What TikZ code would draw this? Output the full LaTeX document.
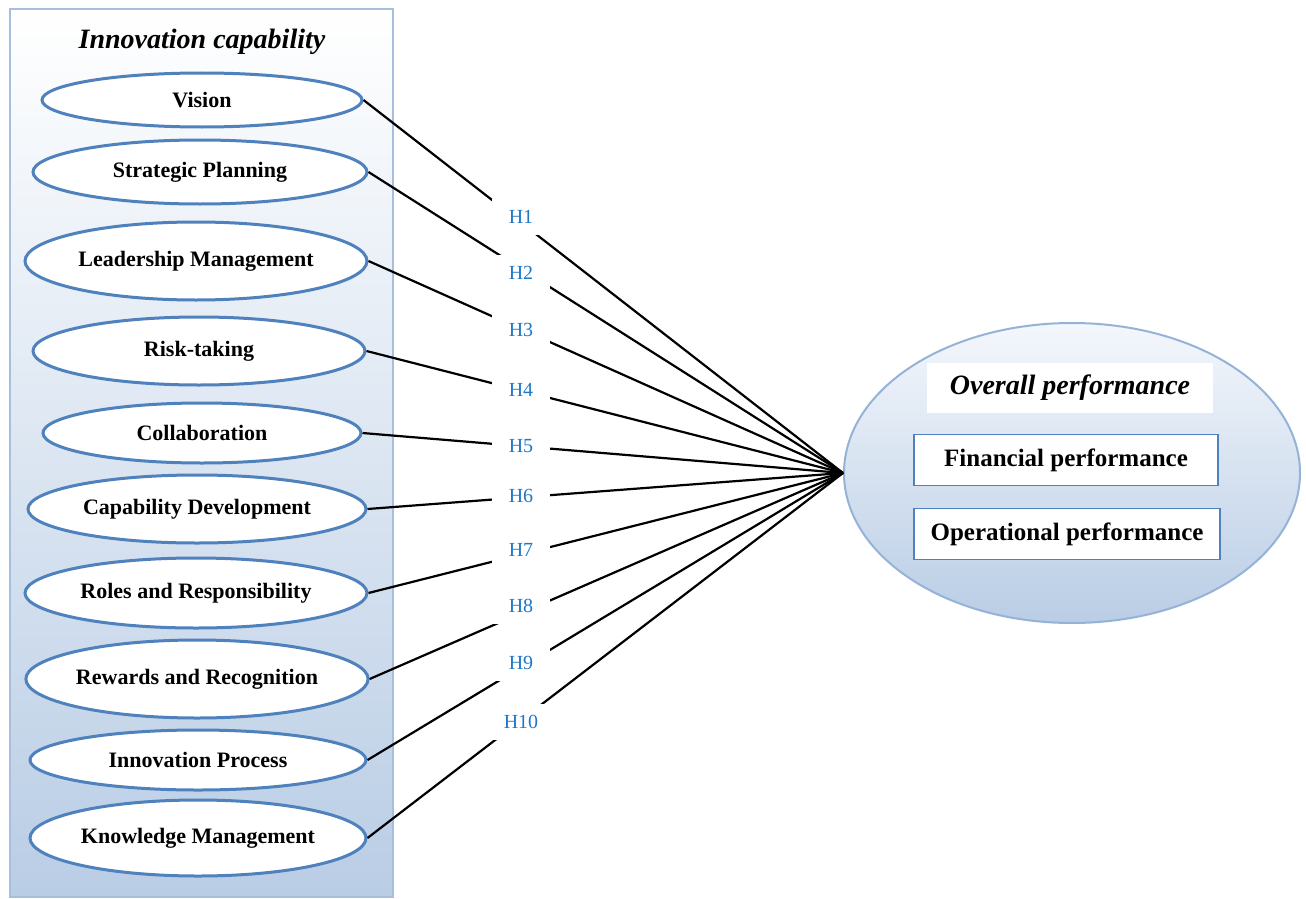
\documentclass[tikz,border=0pt]{standalone}
\usepackage{fontspec}
\setmainfont{Liberation Serif}
\usetikzlibrary{shapes.geometric}
\definecolor{ellborder}{HTML}{4F81BD}
\definecolor{panelborder}{HTML}{A7BFDD}
\definecolor{panelbot}{HTML}{B9CDE5}
\definecolor{bigborder}{HTML}{95B3D7}
\definecolor{bigtop}{HTML}{F4F7FC}
\definecolor{hblue}{HTML}{1F78C8}
\begin{document}
\begin{tikzpicture}[x=1pt,y=-1pt,
  panel/.style={draw=panelborder,line width=2pt,top color=white,bottom color=panelbot},
  ell/.style={ellipse,draw=ellborder,line width=3pt,fill=white,inner sep=0pt,
    font=\fontsize{22pt}{26pt}\selectfont\bfseries},
  bigell/.style={ellipse,draw=bigborder,line width=2pt,top color=bigtop,bottom color=panelbot,inner sep=0pt},
  title/.style={font=\fontsize{28pt}{32pt}\selectfont\bfseries\itshape,inner sep=0pt},
  link/.style={draw=black,line width=2.2pt},
  hlab/.style={fill=white,text=hblue,inner sep=0pt,minimum width=58pt,minimum height=36pt,
    font=\fontsize{20pt}{24pt}\selectfont},
  perfbox/.style={draw=ellborder,line width=1.3pt,fill=white,inner sep=0pt,
    font=\fontsize{25pt}{29pt}\selectfont\bfseries}
]
\useasboundingbox (0,0) rectangle (1306,899);
\fill[white] (0,0) rectangle (1306,899);

% left panel
\path[panel] (10,9) rectangle (393,897);
\node[title] (ictitle) at (202,42) {Innovation capability};

% dimension ellipses
\node[ell,minimum width=320pt,minimum height=54pt] (e1) at (202,100) {Vision};
\node[ell,minimum width=334pt,minimum height=64pt] (e2) at (200,172) {Strategic Planning};
\node[ell,minimum width=342pt,minimum height=78pt] (e3) at (196,261) {Leadership Management};
\node[ell,minimum width=332pt,minimum height=68pt] (e4) at (199,351) {Risk-taking};
\node[ell,minimum width=318pt,minimum height=60pt] (e5) at (202,433) {Collaboration};
\node[ell,minimum width=338pt,minimum height=68pt] (e6) at (197,509) {Capability Development};
\node[ell,minimum width=342pt,minimum height=70pt] (e7) at (196,593) {Roles and Responsibility};
\node[ell,minimum width=340pt,minimum height=78pt] (e8) at (197,679) {Rewards and Recognition};
\node[ell,minimum width=336pt,minimum height=60pt] (e9) at (198,760) {Innovation Process};
\node[ell,minimum width=336pt,minimum height=76pt] (e10) at (198,838) {Knowledge Management};

% overall performance ellipse
\node[bigell,minimum width=456pt,minimum height=300pt] (perf) at (1072,473) {};
\node[fill=white,minimum width=286pt,minimum height=50pt,inner sep=0pt] (optitlebg) at (1070,388) {};
\node[title] (optitle) at (1070,388) {Overall performance};
\node[perfbox,minimum width=304pt,minimum height=51pt] (fin) at (1066,460) {Financial performance};
\node[perfbox,minimum width=306pt,minimum height=51pt] (ops) at (1067,534) {Operational performance};

% connectors
\foreach \i in {1,...,10} {
  \draw[link] (e\i.east) -- (perf.west);
}

% hypothesis labels
\node[hlab] (h1) at (521,217) {H1};
\node[hlab] (h2) at (521,273) {H2};
\node[hlab] (h3) at (521,330) {H3};
\node[hlab] (h4) at (521,390) {H4};
\node[hlab] (h5) at (521,446) {H5};
\node[hlab] (h6) at (521,496) {H6};
\node[hlab] (h7) at (521,550) {H7};
\node[hlab] (h8) at (521,606) {H8};
\node[hlab] (h9) at (521,663) {H9};
\node[hlab,minimum width=64pt] (h10) at (521,722) {H10};
\end{tikzpicture}
\end{document}
